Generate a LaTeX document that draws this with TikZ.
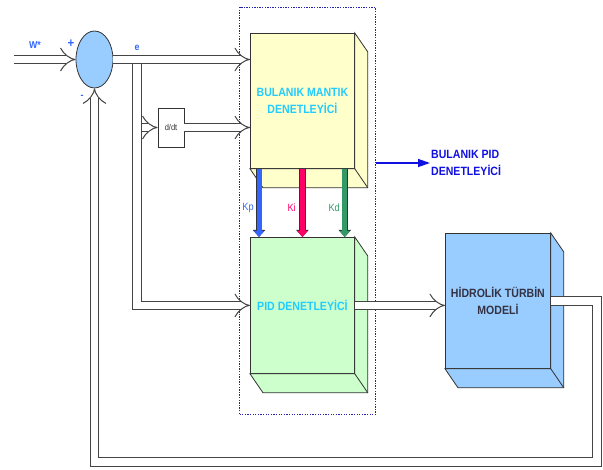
\documentclass[tikz,border=0pt]{standalone}
\usepackage{fontspec}
\setmainfont{Liberation Sans}
\newfontfamily\narrowsans[FakeStretch=0.88]{Liberation Sans}
\usetikzlibrary{arrows.meta,positioning,calc,shapes.geometric}

\definecolor{fuzzyfill}{HTML}{FFFFCC}
\definecolor{pidfill}{HTML}{CCFFCC}
\definecolor{turbfill}{HTML}{99CCFF}
\definecolor{titlecyan}{HTML}{22CCFF}
\definecolor{turbtext}{HTML}{333344}
\definecolor{signblue}{HTML}{3366FF}
\definecolor{labelblue}{HTML}{1010E0}
\definecolor{framecol}{HTML}{2222AA}
\definecolor{boxedge}{HTML}{333333}
\definecolor{pipeedge}{HTML}{444444}
\definecolor{kpblue}{HTML}{3366FF}
\definecolor{kired}{HTML}{FF0066}
\definecolor{kdgreen}{HTML}{339966}

% depth faces of a box, drawn to the lower right
\newcommand\boxdepth[2]{%
  \filldraw[fill=#2, draw=boxedge, line width=0.8pt] (#1.north east) -- ++(13,19)
    -- ($(#1.south east)+(13,19)$) -- ($(#1.south west)+(13,19)$) -- (#1.south west)
    -- (#1.south east) -- cycle;
  \draw[boxedge, line width=0.8pt] (#1.south east) -- ++(13,19);}

\begin{document}
\begin{tikzpicture}[x=1pt, y=-1pt,
  title/.style={font=\narrowsans\bfseries\fontsize{12}{16.5}\selectfont},
  box/.style={draw=boxedge, line width=0.8pt, anchor=north west, align=center, inner sep=2pt, title},
  pipe/.style={draw=pipeedge, line width=1pt, double=white, double distance=7.5pt},
  pipearrow/.style={pipe, -{Implies}},
  gain/.style={line width=5pt, draw=#1, -{Triangle[width=10pt,length=6pt]},
    preaction={draw=boxedge, line width=6.6pt, -{Triangle[width=12pt,length=7pt]}}},
  sign/.style={text=signblue, font=\narrowsans\bfseries\fontsize{10}{12}\selectfont, inner sep=1pt},
  gainlabel/.style={text=#1, font=\narrowsans\fontsize{10.5}{12}\selectfont, anchor=east, inner sep=0pt}]
  \useasboundingbox (0,0) rectangle (603,470);

  % blocks
  \node[draw=framecol, dash pattern=on 1.3pt off 1.3pt, line width=1pt, minimum width=136, minimum height=407,
        anchor=north west, inner sep=0pt] (frame) at (239,7) {};
  \node[box, fill=fuzzyfill, minimum width=104, minimum height=135, text=titlecyan] (fuzzy) at (250,33) {BULANIK MANTIK\\DENETLEYİCİ};
  \boxdepth{fuzzy}{fuzzyfill}
  \node[box, fill=pidfill, minimum width=104, minimum height=136, text=titlecyan] (pid) at (250,237) {PID DENETLEYİCİ};
  \boxdepth{pid}{pidfill}
  \node[box, fill=turbfill, minimum width=105, minimum height=135, text=turbtext] (turbine) at (445,233) {HİDROLİK TÜRBİN\\MODELİ};
  \boxdepth{turbine}{turbfill}
  \node[ellipse, draw=boxedge, fill=turbfill, line width=0.8pt, minimum width=37, minimum height=57, inner sep=0pt] (sum) at (94.5,59.5) {};
  \node[draw=boxedge, fill=white, line width=0.8pt, minimum width=26, minimum height=39, inner sep=0pt,
        text=boxedge, font=\narrowsans\fontsize{8.5}{10}\selectfont] (ddt) at (171,127.5) {d/dt};

  % labels
  \node[sign] (wref) at (35,45) {W*};
  \node[sign, font=\narrowsans\bfseries\fontsize{13}{14}\selectfont] (plus) at (71,44) {+};
  \node[sign] (minus) at (82,97) {-};
  \node[sign] (err) at (137,48) {e};
  \node[title, text=labelblue, align=left, anchor=west, inner sep=1pt] (pidlabel) at (430,163) {BULANIK PID\\DENETLEYİCİ};

  % signal lines
  \coordinate (in) at (14,59.5);
  \coordinate (split) at (137,59.5);
  \coordinate (fbR) at (597,462);
  \coordinate (fbL) at (sum.south |- fbR);
  \draw[pipearrow] (in) -- (sum.west);
  \draw[pipearrow] (split |- ddt.west) -- (ddt.west);
  \draw[pipearrow] (split) |- (pid.west);
  \draw[pipearrow] (sum.east) -- (fuzzy.west |- sum.east);
  \draw[pipearrow] (ddt.east) -- (fuzzy.west |- ddt.east);
  \draw[pipearrow] (pid.east) -- (turbine.west |- pid.east);
  \draw[pipearrow] (turbine.east) -| (fbR) -- (fbL) -- (sum.south);

  % gains
  \draw[gain=kpblue] ([xshift=9]fuzzy.south west) -- ([xshift=9]pid.north west);
  \draw[gain=kired] (fuzzy.south) -- (pid.north);
  \draw[gain=kdgreen] ([xshift=-10]fuzzy.south east) -- ([xshift=-10]pid.north east);
  \node[gainlabel=kpblue] (kp) at (254,208) {Kp};
  \node[gainlabel=kired] (ki) at (296,208) {Ki};
  \node[gainlabel=kdgreen] (kd) at (340,208) {Kd};

  \draw[labelblue, line width=1.3pt, -{Triangle[width=8pt,length=12pt]}] (frame.east |- pidlabel.west) -- (pidlabel.west);
\end{tikzpicture}
\end{document}
